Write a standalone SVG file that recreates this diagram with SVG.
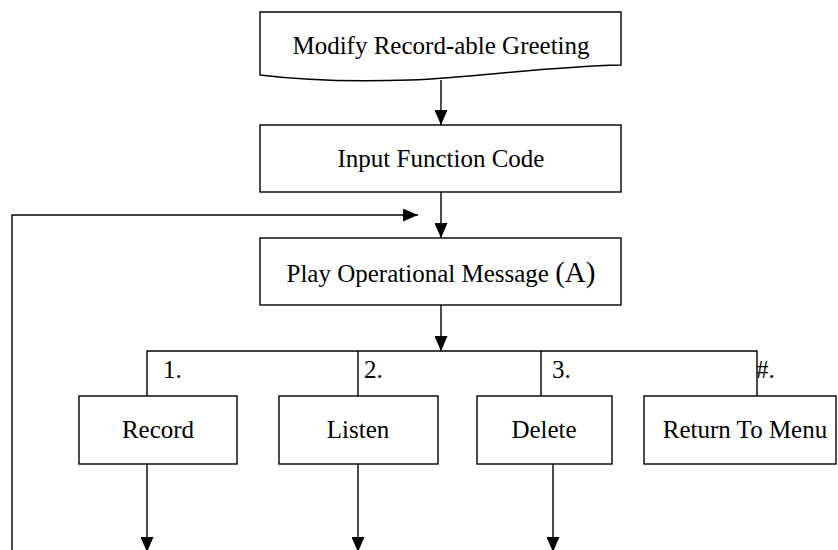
<svg xmlns="http://www.w3.org/2000/svg" width="838" height="550" viewBox="0 0 838 550">
<defs>
<marker id="ah" markerWidth="15" markerHeight="13" refX="15" refY="6.5" orient="auto" markerUnits="userSpaceOnUse">
<path d="M0,0 L15,6.5 L0,13 Z" fill="#000"/>
</marker>
<style>
.box{fill:#fff;stroke:#000;stroke-width:1.4}
.t{font-family:"Liberation Serif","Times New Roman",serif;font-size:25px;fill:#000;text-anchor:middle}
.lbl{font-family:"Liberation Serif","Times New Roman",serif;font-size:25px;fill:#000}
.c{fill:none;stroke:#000;stroke-width:1.4}
</style>
</defs>
<rect width="838" height="550" fill="#fff"/>
<g id="connectors">
<line class="c" x1="441" y1="80" x2="441" y2="125" marker-end="url(#ah)"/>
<line class="c" x1="441" y1="192" x2="441" y2="238" marker-end="url(#ah)"/>
<line class="c" x1="441" y1="305" x2="441" y2="351" marker-end="url(#ah)"/>
<polyline class="c" points="12,550 12,215 418,215" marker-end="url(#ah)"/>
<polyline class="c" points="147,396 147,351 757,351 757,396"/>
<line class="c" x1="358" y1="351" x2="358" y2="396"/>
<line class="c" x1="541" y1="351" x2="541" y2="396"/>
<line class="c" x1="147" y1="464" x2="147" y2="552" marker-end="url(#ah)"/>
<line class="c" x1="358" y1="464" x2="358" y2="552" marker-end="url(#ah)"/>
<line class="c" x1="553" y1="464" x2="553" y2="552" marker-end="url(#ah)"/>
<text class="lbl" x="163" y="378">1.</text>
<text class="lbl" x="364" y="378">2.</text>
<text class="lbl" x="552" y="378">3.</text>
<text class="lbl" x="756" y="378">#.</text>
</g>
<g id="modify">
<path class="box" d="M260,12 H621 V65 C540,67 480,77 410,80 C350,82 300,80 260,75 Z"/>
<text class="t" x="441" y="54">Modify Record-able Greeting</text>
</g>
<g id="input">
<rect class="box" x="260" y="125" width="361" height="67"/>
<text class="t" x="441" y="167">Input Function Code</text>
</g>
<g id="play">
<rect class="box" x="260" y="238" width="361" height="67"/>
<text class="t" x="441" y="282">Play Operational Message <tspan font-size="29">(A)</tspan></text>
</g>
<g id="record">
<rect class="box" x="79" y="396" width="158" height="68"/>
<text class="t" x="158" y="438">Record</text>
</g>
<g id="listen">
<rect class="box" x="279" y="396" width="159" height="68"/>
<text class="t" x="358" y="438">Listen</text>
</g>
<g id="delete">
<rect class="box" x="477" y="396" width="135" height="68"/>
<text class="t" x="544" y="438">Delete</text>
</g>
<g id="return">
<rect class="box" x="644" y="396" width="192" height="68"/>
<text class="t" x="745" y="438">Return To Menu</text>
</g>
</svg>
